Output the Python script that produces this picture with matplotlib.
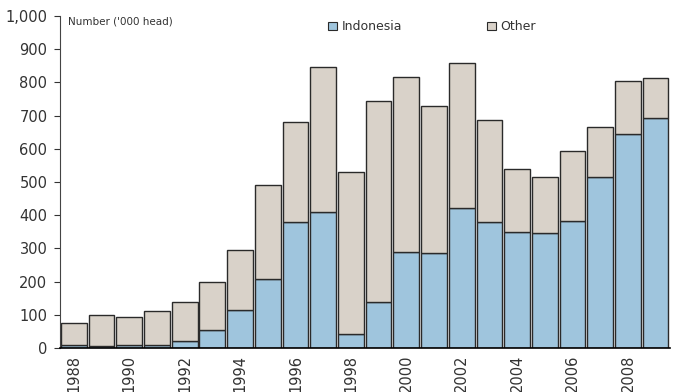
import matplotlib
matplotlib.use('Agg')
import matplotlib.pyplot as plt
import numpy as np

years = list(range(1988, 2010))
indonesia = [8, 5, 8, 10, 22, 53, 115, 208, 380, 410, 42, 140,
             290, 287, 422, 380, 350, 345, 384, 514, 645, 692]
total = [75, 98, 92, 110, 140, 200, 294, 490, 682, 845, 530, 745,
         815, 728, 858, 688, 540, 515, 594, 665, 805, 812]
other = [t - i for t, i in zip(total, indonesia)]
tick_years = list(range(1988, 2010, 2))

blue = '#9fc5dd'
beige = '#d9d2c9'
edge = '#2a2a2a'
txt = '#333333'

fig = plt.figure(figsize=(6.77, 3.92), dpi=100)
ax = fig.add_axes([60 / 677, 44 / 392, 610 / 677, 332 / 392])

x = np.arange(len(years))
ax.bar(x, indonesia, width=0.93, color=blue, edgecolor=edge, linewidth=1.0, label='Indonesia')
ax.bar(x, other, width=0.93, bottom=indonesia, color=beige, edgecolor=edge, linewidth=1.0, label='Other')

ax.set_xlim(-0.5, len(years) - 0.48)
ax.set_ylim(0, 1000)
ax.set_yticks(range(0, 1001, 100))
ax.set_yticklabels([f'{v:,}' for v in range(0, 1001, 100)])
ax.set_xticks([years.index(y) for y in tick_years])
ax.set_xticklabels([str(y) for y in tick_years], rotation=90)

ax.tick_params(axis='y', direction='out', length=4, width=0.8, colors=txt, labelsize=10.5, pad=5)
ax.tick_params(axis='x', length=0, colors=txt, labelsize=10.5, pad=5)
for s in ['top', 'right']:
    ax.spines[s].set_visible(False)
ax.spines['left'].set_color('#444444')
ax.spines['left'].set_linewidth(0.8)
ax.spines['bottom'].set_color('black')
ax.spines['bottom'].set_linewidth(1.2)

ax.text(0.013, 1.0, "Number ('000 head)", transform=ax.transAxes, fontsize=7.5,
        color=txt, va='top', ha='left')

leg = ax.legend(loc='center left', bbox_to_anchor=(0.44, 0.967), ncol=2, frameon=False,
                fontsize=9, handlelength=0.7, handleheight=0.7, handletextpad=0.35,
                columnspacing=6.8, borderaxespad=0, borderpad=0)
for h in leg.legend_handles:
    h.set_linewidth(0.8)
for t in leg.get_texts():
    t.set_color(txt)

fig.savefig('out.png', dpi=100)
